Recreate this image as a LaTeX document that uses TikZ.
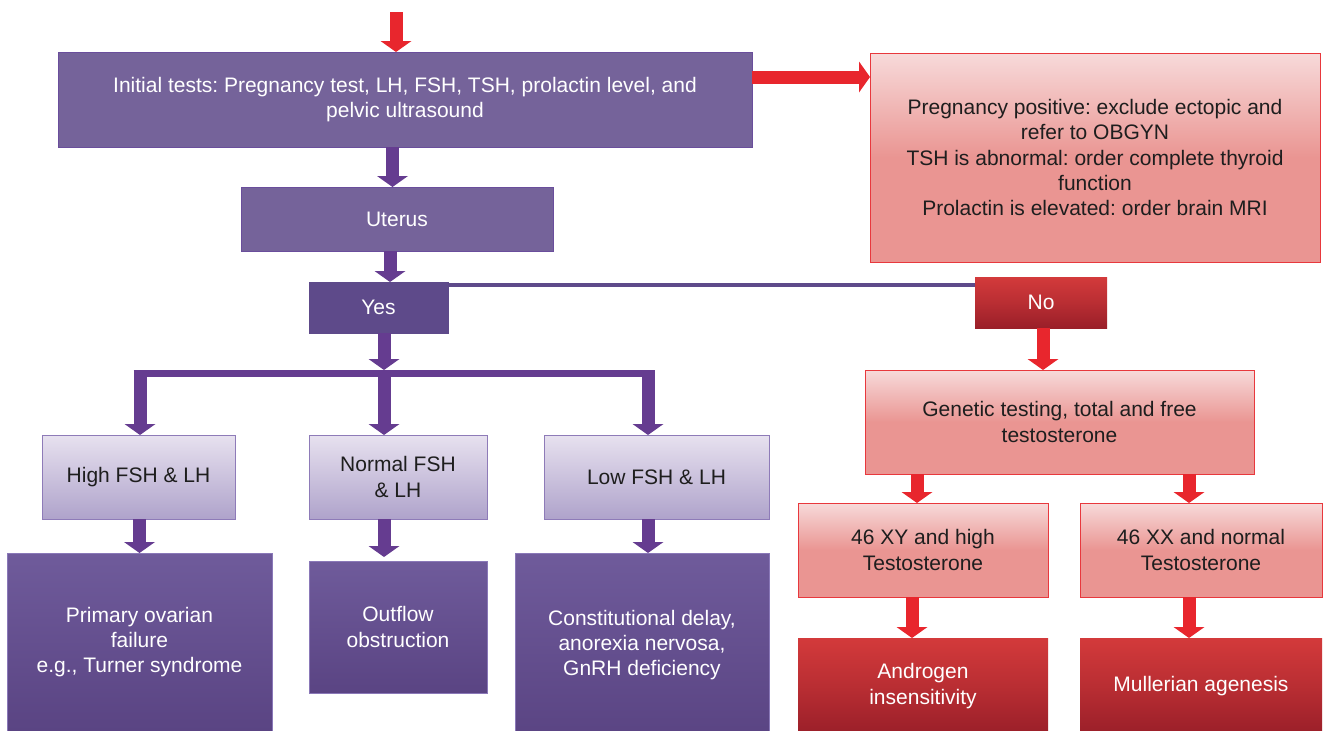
\documentclass[tikz,border=0pt]{standalone}
\usepackage{fontspec}
\setmainfont{Liberation Sans}
\usetikzlibrary{arrows.meta,calc}
\frenchspacing

\definecolor{pBox}{HTML}{75639A}
\definecolor{pYes}{HTML}{5E4A8A}
\definecolor{pBorder}{HTML}{6A4E9C}
\definecolor{pArrow}{HTML}{653C90}
\definecolor{lavTop}{HTML}{E7E1EF}
\definecolor{lavBot}{HTML}{AFA3CB}
\definecolor{lavBorder}{HTML}{8E7BB8}
\definecolor{dpTop}{HTML}{6F5B9B}
\definecolor{dpBot}{HTML}{5A4483}
\definecolor{dpBorder}{HTML}{8A78B8}
\definecolor{pinkTop}{HTML}{F7DADA}
\definecolor{pinkBot}{HTML}{EA9592}
\definecolor{pinkBorder}{HTML}{E8383D}
\definecolor{rTop}{HTML}{D33A3B}
\definecolor{rBot}{HTML}{9A1F29}
\definecolor{rArrow}{HTML}{E8262D}
\definecolor{txt}{HTML}{1E1E1E}

\begin{document}
\frenchspacing
\begin{tikzpicture}[x=1pt,y=-1pt,
  box/.style={rectangle, inner sep=0pt, outer sep=0pt, align=center,
    font=\fontsize{21}{25.3}\selectfont\frenchspacing, line width=1pt},
  purplebox/.style={box, fill=pBox, draw=pBorder, text=white},
  yesbox/.style={box, fill=pYes, draw=pYes, text=white},
  lavbox/.style={box, top color=lavTop, bottom color=lavBot, draw=lavBorder, text=txt},
  dpbox/.style={box, top color=dpTop, bottom color=dpBot, draw=dpBorder, text=white},
  pinkbox/.style={box, top color=pinkTop, bottom color=pinkBot, middle color=pinkBot, draw=pinkBorder, text=txt},
  redbox/.style={box, top color=rTop, bottom color=rBot, middle color=rTop!55!rBot, text=white},
  parrow/.style={draw=pArrow, line width=13pt, -{Triangle[width=31pt,length=11pt,line width=0pt]}},
  rarrow/.style={draw=rArrow, line width=13pt, -{Triangle[width=31pt,length=11pt,line width=0pt]}},
  pbar/.style={draw=pArrow, line width=7pt},
  noline/.style={draw=pYes, line width=4pt},
]
\useasboundingbox (0,0) rectangle (1323,731);

% --- left branch (uterus present) ---
\node[purplebox, minimum width=694pt, minimum height=95pt] (init) at (405,99.5)
  {Initial tests: Pregnancy test, LH, FSH, TSH, prolactin level, and\\pelvic ultrasound};
\node[pinkbox, minimum width=450pt, minimum height=209pt] (preg) at (1095,157.5)
  {Pregnancy positive: exclude ectopic and\\refer to OBGYN\\TSH is abnormal: order complete thyroid\\function\\Prolactin is elevated: order brain MRI};
\node[purplebox, minimum width=312pt, minimum height=64pt] (uterus) at (397,219) {Uterus};
\node[yesbox, minimum width=139pt, minimum height=51pt] (yes) at (378.5,307.5) {Yes};
\node[redbox, minimum width=132pt, minimum height=51pt] (no) at (1041,302.5) {No};

\node[lavbox, minimum width=193pt, minimum height=84pt] (high) at (138.5,477) {High FSH \& LH};
\node[lavbox, minimum width=178pt, minimum height=84pt] (normal) at (398,477) {Normal FSH\\\& LH};
\node[lavbox, minimum width=225pt, minimum height=84pt] (low) at (656.5,477) {Low FSH \& LH};

\node[dpbox, minimum width=265pt, minimum height=178pt] (primary) at (139.5,642)
  {Primary ovarian\\failure\\e.g., Turner syndrome};
\node[dpbox, minimum width=178pt, minimum height=132pt] (outflow) at (398,627)
  {Outflow\\obstruction};
\node[dpbox, minimum width=254pt, minimum height=184pt] (const) at (642,645)
  {Constitutional delay,\\anorexia nervosa,\\GnRH deficiency};

% --- right branch (no uterus) ---
\node[pinkbox, minimum width=389pt, minimum height=104pt] (gen) at (1059.5,422)
  {Genetic testing, total and free\\testosterone};
\node[pinkbox, minimum width=250pt, minimum height=94pt] (xy) at (923,550)
  {46 XY and high\\Testosterone};
\node[pinkbox, minimum width=242pt, minimum height=94pt] (xx) at (1201,550)
  {46 XX and normal\\Testosterone};
\node[redbox, minimum width=250pt, minimum height=96pt] (andro) at (923,686)
  {Androgen\\insensitivity};
\node[redbox, minimum width=242pt, minimum height=96pt] (mull) at (1201,686)
  {Mullerian agenesis};

% --- connectors ---
\coordinate (start) at (396,12);
\draw[rarrow] (start) -- (start |- init.north);
\draw[rarrow] (init.east |- 0,77) -- (preg.west |- 0,77);
\draw[parrow] (392.5,0 |- init.south) -- (392.5,0 |- uterus.north);
\draw[parrow] (390,0 |- uterus.south) -- (390,0 |- yes.north);

% yes / no split line
\draw[noline] ([yshift=-2.5pt]yes.north east) -- ([yshift=-2.5pt]yes.north east -| no.west);

% fork under "Yes"
\coordinate (fork) at (384,373.5);
\coordinate (forkL) at (133.5,373.5);
\coordinate (forkR) at (654.5,373.5);
\draw[parrow, shorten >=3.5pt] (384,0 |- yes.south) -- (fork);
\draw[pbar] (forkL) -- (forkR);
\draw[parrow] (140,370) -- (140,0 |- high.north);
\draw[parrow] (384,370) -- (384,0 |- normal.north);
\draw[parrow] (648,370) -- (648,0 |- low.north);

\draw[parrow] (139.5,0 |- high.south) -- (139.5,0 |- primary.north);
\draw[parrow, shorten >=4pt] (384,0 |- normal.south) -- (384,0 |- outflow.north);
\draw[parrow] (648,0 |- low.south) -- (648,0 |- const.north);

\draw[rarrow] (1043,0 |- no.south) -- (1043,0 |- gen.north);
\draw[rarrow] (917,0 |- gen.south) -- (917,0 |- xy.north);
\draw[rarrow] (1189,0 |- gen.south) -- (1189,0 |- xx.north);
\draw[rarrow] (912,0 |- xy.south) -- (912,0 |- andro.north);
\draw[rarrow] (1189,0 |- xx.south) -- (1189,0 |- mull.north);
\end{tikzpicture}
\end{document}
